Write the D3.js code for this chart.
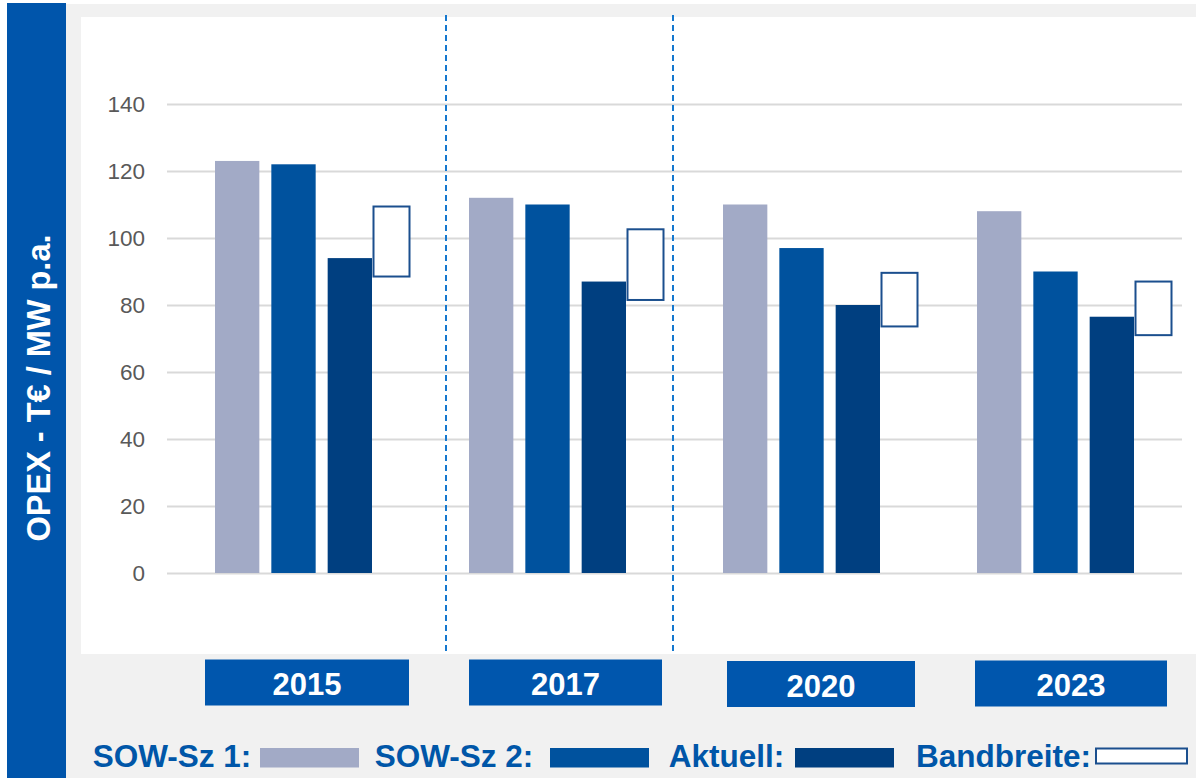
<!DOCTYPE html>
<html>
<head>
<meta charset="utf-8">
<script src="https://cdn.jsdelivr.net/npm/d3@7"></script>
<style>
  html, body { margin: 0; padding: 0; background: #ffffff; }
  svg { display: block; font-family: "Liberation Sans", Arial, sans-serif; }
</style>
</head>
<body>
<svg id="chart" width="1196" height="778"></svg>
<script>
// ---- data ----
const years = ["2015", "2017", "2020", "2023"];
const seriesNames = ["SOW-Sz 1", "SOW-Sz 2", "Aktuell"];
const sow1 = [123, 112, 110, 108];
const sow2 = [122, 110, 97, 90];
const aktuell = [94, 87, 80, 76.5];
const bandLow = [88.5, 81.5, 73.6, 71];
const bandHigh = [109.4, 102.6, 89.6, 87];
const yTicks = [0, 20, 40, 60, 80, 100, 120, 140];
const yTitle = "OPEX - T€ / MW p.a.";
const legendLabels = ["SOW-Sz 1:", "SOW-Sz 2:", "Aktuell:", "Bandbreite:"];

// ---- styles / layout ----
const colors = { "SOW-Sz 1": "#a2aac6", "SOW-Sz 2": "#00529e", "Aktuell": "#003f80" };
const brandBlue = "#0056ad";
const bandStroke = "#1b4f8e";
// year label boxes: offset from band start, width, top
const boxOffset = [38, 48, 52, 46];
const boxWidth = [204, 193, 188, 192];
const boxTop = [659.5, 659.5, 661, 660.5];

const svg = d3.select("#chart");

// background pieces
svg.append("rect").attr("x", 66).attr("y", 4).attr("width", 1130).attr("height", 774).attr("fill", "#f1f1f1");
svg.append("rect").attr("x", 7).attr("y", 3).attr("width", 59).attr("height", 775).attr("fill", "#0055ab");
svg.append("rect").attr("x", 81).attr("y", 17).attr("width", 1115).attr("height", 637).attr("fill", "#ffffff");

// scales
const x0 = d3.scaleBand().domain(years).range([167, 1183]).padding(0);
const x1 = d3.scaleBand().domain(seriesNames).range([48, 205]).paddingInner(0.213).paddingOuter(0);
const y = d3.scaleLinear().domain([0, 140]).range([573, 104]);

// gridlines + tick labels
const yAxis = d3.axisLeft(y).tickValues(yTicks).tickSize(-(1182 - 167)).tickPadding(22).tickFormat(d3.format("d"));
const gAxis = svg.append("g").attr("transform", "translate(167,0)").call(yAxis);
gAxis.select(".domain").remove();
gAxis.selectAll(".tick line").attr("stroke", "#d9d9d9").attr("stroke-width", 2);
gAxis.selectAll(".tick text")
  .attr("fill", "#595959")
  .style("font-size", "22.5px")
  .style("font-family", "'Liberation Sans', Arial, sans-serif");

// dashed dividers
const dividers = [x0("2017") + 25, x0("2020") - 2];
svg.selectAll("line.divider").data(dividers).enter().append("line")
  .attr("class", "divider")
  .attr("x1", d => d).attr("x2", d => d)
  .attr("y1", 15).attr("y2", 654)
  .attr("stroke", "#1578cf").attr("stroke-width", 2)
  .attr("stroke-dasharray", "6,4");

// bars
const rows = years.map((yr, i) => ({
  year: yr,
  values: [
    { key: "SOW-Sz 1", v: sow1[i] },
    { key: "SOW-Sz 2", v: sow2[i] },
    { key: "Aktuell", v: aktuell[i] }
  ],
  lo: bandLow[i], hi: bandHigh[i]
}));

const groups = svg.selectAll("g.group").data(rows).enter().append("g")
  .attr("class", "group")
  .attr("transform", d => `translate(${x0(d.year)},0)`);

groups.selectAll("rect.bar").data(d => d.values).enter().append("rect")
  .attr("class", "bar")
  .attr("x", d => x1(d.key))
  .attr("width", x1.bandwidth())
  .attr("y", d => y(d.v))
  .attr("height", d => y(0) - y(d.v))
  .attr("fill", d => colors[d.key]);

groups.append("rect")
  .attr("class", "band")
  .attr("x", x1.range()[1] + 1.5)
  .attr("width", 36)
  .attr("y", d => y(d.hi))
  .attr("height", d => y(d.lo) - y(d.hi))
  .attr("fill", "#ffffff")
  .attr("stroke", bandStroke)
  .attr("stroke-width", 2);

// year boxes
const yb = svg.selectAll("g.yearbox").data(years).enter().append("g")
  .attr("class", "yearbox")
  .attr("transform", (d, i) => `translate(${x0(d) + boxOffset[i]},${boxTop[i]})`);
yb.append("rect")
  .attr("x", 0).attr("y", 0).attr("width", (d, i) => boxWidth[i]).attr("height", 46)
  .attr("fill", brandBlue);
yb.append("text")
  .attr("x", (d, i) => boxWidth[i] / 2).attr("y", 35.5)
  .attr("text-anchor", "middle")
  .attr("fill", "#ffffff")
  .style("font-size", "31px").style("font-weight", "bold")
  .text(d => d);

// y-axis title
svg.append("text")
  .attr("transform", "translate(50,388) rotate(-90)")
  .attr("text-anchor", "middle")
  .attr("fill", "#ffffff")
  .style("font-size", "32.5px").style("font-weight", "bold")
  .text(yTitle);

// legend
const legendTextX = [92.7, 374.7, 668.7, 916];
const legendSwatchX = [260, 550, 795, 1096];
const legendSwatchW = [99, 99, 99, 91];
const legendFill = [colors["SOW-Sz 1"], colors["SOW-Sz 2"], colors["Aktuell"], "#ffffff"];
const lg = svg.selectAll("g.legend").data(legendLabels).enter().append("g").attr("class", "legend");
lg.append("text")
  .attr("x", (d, i) => legendTextX[i]).attr("y", 767)
  .attr("fill", "#0056a8")
  .style("font-size", "31.5px").style("font-weight", "bold")
  .text(d => d);
lg.append("rect")
  .attr("x", (d, i) => legendSwatchX[i])
  .attr("y", (d, i) => i === 3 ? 748.5 : 748)
  .attr("width", (d, i) => legendSwatchW[i])
  .attr("height", (d, i) => i === 3 ? 15 : 19.5)
  .attr("fill", (d, i) => legendFill[i])
  .attr("stroke", (d, i) => i === 3 ? bandStroke : "none")
  .attr("stroke-width", 2);
</script>
</body>
</html>
